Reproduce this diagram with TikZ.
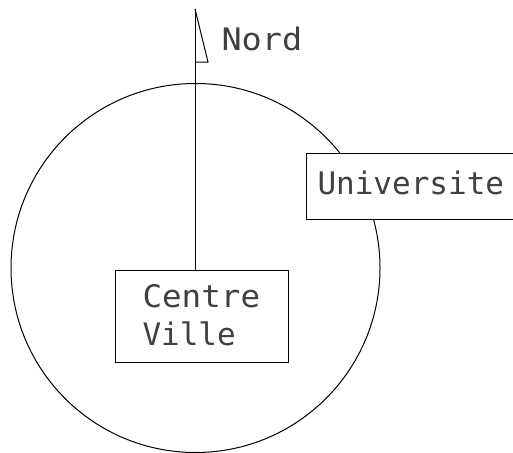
\documentclass[tikz,border=0pt]{standalone}
\usepackage{fontspec}
\newfontfamily\plotfont{DejaVu Sans Mono}
\begin{document}
\begin{tikzpicture}[x=1pt,y=-1pt,line width=1pt,
  lbl/.style={anchor=base west,inner sep=0pt,font=\plotfont\fontsize{31}{36}\selectfont,text=black!75},
  boxn/.style={draw,rectangle,inner sep=0pt,line width=1pt}]
\useasboundingbox (0,0) rectangle (513,452);
\begin{scope}
\clip (0,0) rectangle (513,452);
\node[draw,circle,minimum size=369pt,inner sep=0pt,line width=1pt] (ring) at (195.5,268) {};
\node[boxn,minimum width=173pt,minimum height=92pt,fill=white] (cv) at (201.5,316) {};
\node[boxn,minimum width=224pt,minimum height=66pt,fill=white] (uni) at (418,186) {};
\coordinate (top) at (195,9);
\coordinate (tip) at (208,62);
\coordinate (flagbase) at (195,62);
\draw (top) -- (top |- cv.north);
\draw (top) -- (tip) -- (flagbase);
\node[lbl,xscale=1.08] (nord) at (221,50) {Nord};
\node[lbl] (univ) at (317,194) {Universite};
\node[lbl,xscale=1.05] (centre) at (142,307) {Centre};
\node[lbl] (ville) at (142,345) {Ville};
\end{scope}
\end{tikzpicture}
\end{document}
